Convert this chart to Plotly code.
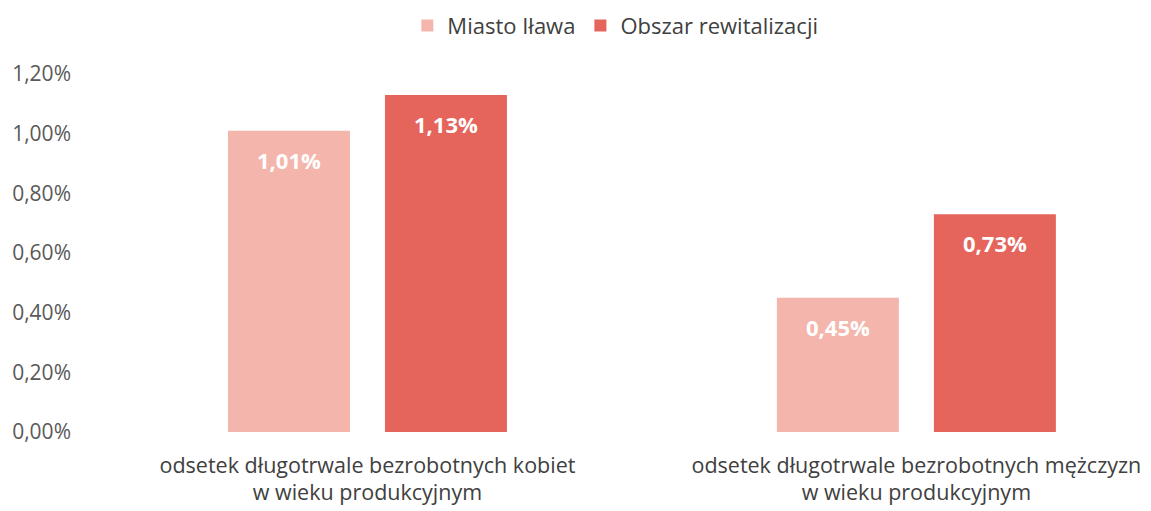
import plotly.graph_objects as go

categories = ["odsetek długotrwale bezrobotnych kobiet<br>w wieku produkcyjnym",
              "odsetek długotrwale bezrobotnych mężczyzn<br>w wieku produkcyjnym"]
series_names = ["Miasto Iława", "Obszar rewitalizacji"]
miasto = [1.01, 0.45]
obszar = [1.13, 0.73]
tick_vals = [0, 0.2, 0.4, 0.6, 0.8, 1.0, 1.2]
tick_text = ["0,00%", "0,20%", "0,40%", "0,60%", "0,80%", "1,00%", "1,20%"]

colors = ["#F4B6AC", "#E5645B"]
FONT = "Open Sans"

def fmt(v):
    return f"{v:.2f}".replace(".", ",") + "%"

fig = go.Figure()
for name, vals, col in zip(series_names, [miasto, obszar], colors):
    fig.add_trace(go.Bar(
        name=name, x=list(range(len(categories))), y=vals,
        marker=dict(color=col, line=dict(width=0)),
        hoverinfo="skip",
    ))

# data labels inside bars, slightly below bar tops
offset = 0.143
for si, vals in enumerate([miasto, obszar]):
    for ci, v in enumerate(vals):
        fig.add_annotation(
            x=ci + (-offset if si == 0 else offset), y=v, xref="x", yref="y",
            text="<b>" + fmt(v) + "</b>", showarrow=False,
            yshift=-29, font=dict(family=FONT, size=22, color="white"),
        )

fig.update_layout(
    width=1151, height=511,
    margin=dict(l=85, r=0, t=66, b=87, autoexpand=False),
    paper_bgcolor="white", plot_bgcolor="white",
    barmode="group", bargap=0.428, bargroupgap=0.223,
    font=dict(family=FONT, color="#404040"),
    showlegend=True,
    legend=dict(orientation="h", x=0.49, xanchor="center", y=1.135, yanchor="middle",
                yref="paper", font=dict(family=FONT, size=22, color="#404040"),
                itemwidth=30, traceorder="normal"),
    xaxis=dict(range=[-0.5, 1.442], tickvals=list(range(len(categories))),
               ticktext=categories, showgrid=False, zeroline=False, showline=False,
               ticks="", tickfont=dict(family=FONT, size=21.5, color="#404040"),
               ticklabelstandoff=18, automargin=False),
    yaxis=dict(range=[0, 1.2], tickvals=tick_vals, ticktext=tick_text,
               showgrid=False, zeroline=False, showline=False, ticks="",
               tickfont=dict(family=FONT, size=21, color="#595959"),
               ticklabelstandoff=21, automargin=False),
)

fig.write_html("out.html")
